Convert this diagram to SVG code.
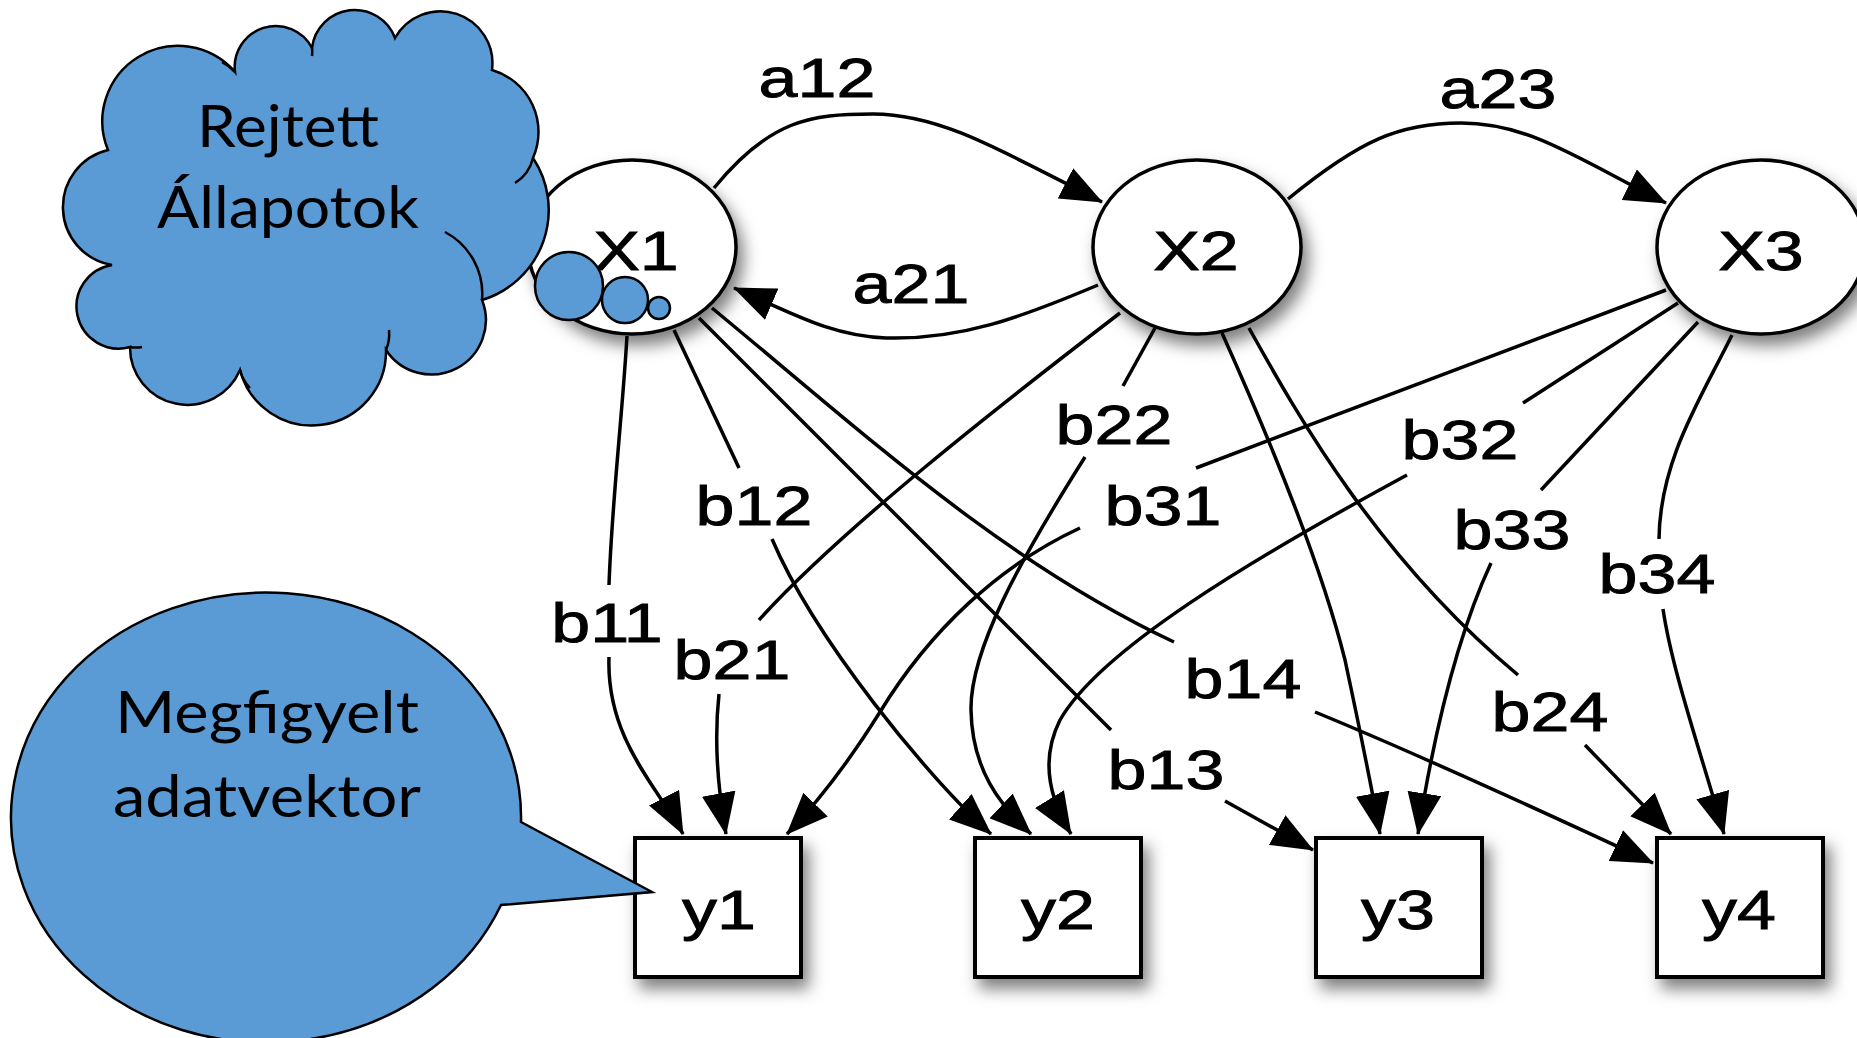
<svg xmlns="http://www.w3.org/2000/svg" width="1857" height="1038" viewBox="0 0 1857 1038">
<defs>
<style>
.lbl{font-family:"Liberation Sans",Arial,Helvetica,sans-serif;font-size:56px;text-anchor:middle;fill:#000;stroke:#000;stroke-width:0.9}
.call{font-family:Lato,"Open Sans",sans-serif;font-size:58px;text-anchor:middle;fill:#000}
.node{fill:#fff;stroke:#000;stroke-width:3.5}
.box{fill:#fff;stroke:#000;stroke-width:4}
.blue{fill:#5b9bd5;stroke:#000;stroke-width:2.5}
.con{fill:none;stroke:#000;stroke-width:3.5}
</style>
<filter id="sh" x="-40%" y="-40%" width="190%" height="190%">
<feDropShadow dx="6" dy="10" stdDeviation="8" flood-color="#000" flood-opacity="0.5"/>
</filter>
<marker id="ah" markerUnits="userSpaceOnUse" markerWidth="42" markerHeight="34" viewBox="0 0 42 34" refX="41" refY="17" orient="auto">
<path d="M0,0 L42,17 L0,34 z" fill="#000"/>
</marker>
</defs>
<rect width="1857" height="1038" fill="#fff"/>

<g id="X1"><ellipse class="node" filter="url(#sh)" cx="632" cy="247" rx="104" ry="87"/><text class="lbl" transform="translate(636,270) scale(1.25,1)">X1</text></g>
<g id="X2"><ellipse class="node" filter="url(#sh)" cx="1197" cy="247" rx="104" ry="87"/><text class="lbl" transform="translate(1196,270) scale(1.25,1)">X2</text></g>
<g id="X3"><ellipse class="node" filter="url(#sh)" cx="1761" cy="247" rx="104" ry="87"/><text class="lbl" transform="translate(1761,270) scale(1.25,1)">X3</text></g>
<g id="y1"><rect class="box" filter="url(#sh)" x="635" y="838" width="166" height="139"/><text class="lbl" transform="translate(719,929) scale(1.25,1)">y1</text></g>
<g id="y2"><rect class="box" filter="url(#sh)" x="975" y="838" width="166" height="139"/><text class="lbl" transform="translate(1058,929) scale(1.25,1)">y2</text></g>
<g id="y3"><rect class="box" filter="url(#sh)" x="1316" y="838" width="166" height="139"/><text class="lbl" transform="translate(1398,929) scale(1.25,1)">y3</text></g>
<g id="y4"><rect class="box" filter="url(#sh)" x="1657" y="838" width="166" height="139"/><text class="lbl" transform="translate(1739,929) scale(1.25,1)">y4</text></g>

<g id="connectors" class="con">
<path class="con" d="M714,188 C770,120 810,114 873,114 C940,114 1000,150 1102,202" marker-end="url(#ah)"/>
<path class="con" d="M1288,199 C1360,140 1400,123 1461,123 C1530,123 1580,160 1666,203" marker-end="url(#ah)"/>
<path class="con" d="M1098,285 C1020,318 960,340 886,338 C830,336 790,312 734,288" marker-end="url(#ah)"/>
<path class="con" d="M627,336 C622,420 612,500 609,585"/>
<path class="con" d="M609,657 C606,740 660,790 683,834" marker-end="url(#ah)"/>
<path class="con" d="M1120,313 C1000,405 840,530 759,620"/>
<path class="con" d="M719,694 C714,740 718,790 726,834" marker-end="url(#ah)"/>
<path class="con" d="M1666,290 L1196,468"/>
<path class="con" d="M1080,528 C1000,565 930,630 880,712 C850,760 820,800 787,834" marker-end="url(#ah)"/>
<path class="con" d="M674,330 L739,468"/>
<path class="con" d="M772,539 C815,640 930,780 991,834" marker-end="url(#ah)"/>
<path class="con" d="M1155,328 L1123,386"/>
<path class="con" d="M1085,457 C1020,560 970,650 971,710 C972,770 1000,805 1031,834" marker-end="url(#ah)"/>
<path class="con" d="M1678,303 L1523,403"/>
<path class="con" d="M1407,475 C1250,560 1100,650 1060,720 C1040,760 1050,800 1071,834" marker-end="url(#ah)"/>
<path class="con" d="M699,318 L1111,730"/>
<path class="con" d="M1225,801 L1313,850" marker-end="url(#ah)"/>
<path class="con" d="M712,308 C860,430 1000,560 1174,642"/>
<path class="con" d="M1315,712 C1420,755 1550,815 1653,863" marker-end="url(#ah)"/>
<path class="con" d="M1222,333 C1270,440 1320,560 1345,660 C1360,730 1372,790 1380,834" marker-end="url(#ah)"/>
<path class="con" d="M1249,328 C1300,420 1380,560 1518,675"/>
<path class="con" d="M1585,745 L1671,834" marker-end="url(#ah)"/>
<path class="con" d="M1698,322 L1541,490"/>
<path class="con" d="M1491,563 C1460,630 1436,720 1418,834" marker-end="url(#ah)"/>
<path class="con" d="M1732,335 C1700,400 1660,460 1659,539"/>
<path class="con" d="M1663,609 C1672,670 1700,750 1724,834" marker-end="url(#ah)"/>
</g>

<g id="labels">
<text class="lbl" transform="translate(817,97) scale(1.25,1)">a12</text>
<text class="lbl" transform="translate(911,303) scale(1.25,1)">a21</text>
<text class="lbl" transform="translate(1498,108) scale(1.25,1)">a23</text>
<text class="lbl" transform="translate(607,642) scale(1.25,1)">b11</text>
<text class="lbl" transform="translate(754,525) scale(1.25,1)">b12</text>
<text class="lbl" transform="translate(1166,789) scale(1.25,1)">b13</text>
<text class="lbl" transform="translate(1243,698) scale(1.25,1)">b14</text>
<text class="lbl" transform="translate(732,679) scale(1.25,1)">b21</text>
<text class="lbl" transform="translate(1114,444) scale(1.25,1)">b22</text>
<text class="lbl" transform="translate(1550,731) scale(1.25,1)">b24</text>
<text class="lbl" transform="translate(1163,525) scale(1.25,1)">b31</text>
<text class="lbl" transform="translate(1460,459) scale(1.25,1)">b32</text>
<text class="lbl" transform="translate(1512,549) scale(1.25,1)">b33</text>
<text class="lbl" transform="translate(1657,593) scale(1.25,1)">b34</text>
</g>

<g id="cloud">
<path class="blue" d="M112,265 A58.7,58.7 0 0 1 108,150 A75.5,75.5 0 0 1 235,72 A41,41 0 0 1 312,48 A43,43 0 0 1 395,38 A52,52 0 0 1 492,70 A64.5,64.5 0 0 1 533,158 A94,94 0 0 1 482,300 A54.4,54.4 0 0 1 386,350 A74.2,74.2 0 0 1 240,370 A57.3,57.3 0 0 1 130,347 A42.05,42.05 0 1 1 112,265 Z"/>
<g fill="none" stroke="#000" stroke-width="2.5">
<path d="M445,232 A70,70 0 0 1 482,300"/>
<path d="M533,158 A40,40 0 0 1 515,183"/>
<path d="M235,72 A40,40 0 0 0 222,62"/>
<path d="M312,48 A30,30 0 0 1 312,56"/>
<path d="M386,350 A40,40 0 0 0 389,330"/>
<path d="M240,370 A40,40 0 0 0 250,388"/>
<path d="M130,347 A30,30 0 0 0 142,347"/>
</g>
<text class="call" x="288" y="147" textLength="182" lengthAdjust="spacingAndGlyphs">Rejtett</text>
<text class="call" x="288" y="228" textLength="262" lengthAdjust="spacingAndGlyphs">Állapotok</text>
<circle class="blue" cx="569" cy="286" r="34"/>
<circle class="blue" cx="625" cy="300" r="23"/>
<circle class="blue" cx="659" cy="308" r="11"/>
</g>

<g id="callout">
<path class="blue" d="M521,822 L652,892 L501,905 A255,225 0 1 1 521,822 Z"/>
<text class="call" x="267" y="733" textLength="304" lengthAdjust="spacingAndGlyphs">Megfigyelt</text>
<text class="call" x="267" y="817" textLength="308" lengthAdjust="spacingAndGlyphs">adatvektor</text>
</g>
</svg>
